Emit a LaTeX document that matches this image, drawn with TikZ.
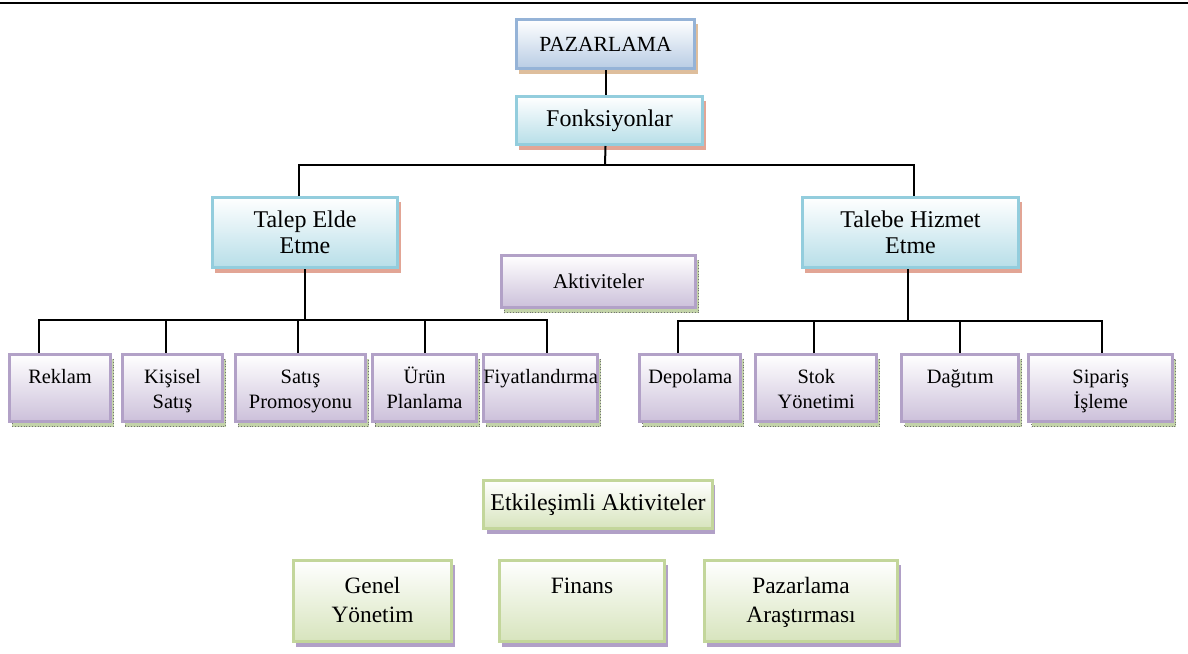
\documentclass[tikz,border=0pt]{standalone}
\usepackage{fontspec}
\setmainfont{Liberation Serif}
\usetikzlibrary{positioning,shadows}
\definecolor{pzline}{HTML}{95B3D7}
\definecolor{pzfill}{HTML}{B8CCE4}
\definecolor{pzshadow}{HTML}{DEBE9C}
\definecolor{cyline}{HTML}{93CDDD}
\definecolor{cyfill}{HTML}{B7DEE8}
\definecolor{cyshadow}{HTML}{E2A595}
\definecolor{liline}{HTML}{B2A1C7}
\definecolor{lifill}{HTML}{CCC0DA}
\definecolor{lishadow}{HTML}{C3D3A9}
\definecolor{grline}{HTML}{C3D69B}
\definecolor{grfill}{HTML}{D7E4BD}
\definecolor{grshadow}{HTML}{B1A0C7}

\begin{document}
\begin{tikzpicture}[
    x=0.5pt, y=-0.5pt,
    node distance=4.5pt,
    head/.style={draw=pzline, line width=1.4pt, top color=white, bottom color=pzfill, align=center,
        drop shadow={shadow xshift=1.5pt, shadow yshift=-2.5pt, fill=pzshadow, opacity=1},
        minimum width=89.1pt, minimum height=24.6pt, font=\fontsize{10.8}{12}\selectfont},
    func/.style={draw=cyline, line width=1.4pt, top color=white, bottom color=cyfill, align=center,
        drop shadow={shadow xshift=1.5pt, shadow yshift=-2.5pt, fill=cyshadow, opacity=1},
        minimum width=92.6pt, minimum height=35.1pt, font=\fontsize{12}{13}\selectfont},
    act/.style={draw=liline, line width=1.4pt, top color=white, bottom color=lifill, align=center,
        drop shadow={shadow xshift=1.5pt, shadow yshift=-2.5pt, fill=lishadow, draw=black!55, densely dotted, line width=0.4pt, opacity=1},
        minimum width=50.6pt, minimum height=33.6pt, inner xsep=0pt, text height=23pt, text depth=3pt,
        font=\fontsize{10.2}{12.5}\selectfont},
    inter/.style={draw=grline, line width=1.4pt, top color=white, bottom color=grfill, align=center,
        drop shadow={shadow xshift=1.5pt, shadow yshift=-2.5pt, fill=grshadow, opacity=1},
        minimum width=79.1pt, minimum height=40.6pt, text height=24pt, text depth=3pt,
        font=\fontsize{11.7}{14.5}\selectfont},
    link/.style={draw=black, line width=1pt},
    rule/.style={draw=black, line width=1.2pt}
]
\useasboundingbox (0,0) rectangle (1188,653);
\draw[rule] (0,3) -- (1188,3);

% top levels
\node[head] (pzr) at (605.5,44) {PAZARLAMA};
\node[func, minimum width=93.1pt, minimum height=24.1pt] (fnk) at (609.5,120.5) {Fonksiyonlar};
\node[func] (talep) at (305,232.5) {Talep Elde\\Etme};
\node[func, minimum width=108.1pt] (talebe) at (910.5,232.5) {Talebe Hizmet\\Etme};
\node[act, minimum width=97.1pt, minimum height=26.1pt, text height=, text depth=, inner xsep=3.33pt,
      font=\fontsize{10.5}{12}\selectfont] (akt) at (598.5,281.5) {Aktiviteler};

% activities
\node[act] (reklam) at (60,388) {Reklam\\\mbox{}};
\node[act, right=of reklam, minimum width=50.1pt] (kisisel) {Kişisel\\Satış};
\node[act, right=5pt of kisisel, minimum width=65.1pt] (satis) {Satış\\Promosyonu};
\node[act, right=2pt of satis, minimum width=52.1pt] (urun) {Ürün\\Planlama};
\node[act, right=2pt of urun, minimum width=56.6pt] (fiyat) {Fiyatlandırma\\\mbox{}};
\node[act, right=19.5pt of fiyat] (depo) {Depolama\\\mbox{}};
\node[act, right=6pt of depo, minimum width=60.6pt] (stok) {Stok\\Yönetimi};
\node[act, right=11pt of stok, minimum width=58.6pt] (dagitim) {Dağıtım\\\mbox{}};
\node[act, right=3.5pt of dagitim, minimum width=72.1pt] (siparis) {Sipariş\\İşleme};

% interacting activities
\node[inter, minimum width=113.6pt, minimum height=24.1pt, text height=, text depth=,
      font=\fontsize{12}{14}\selectfont] (etk) at (598,504.5) {Etkileşimli Aktiviteler};
\node[inter] (genel) at (372.5,601) {Genel\\Yönetim};
\node[inter, right=22.5pt of genel, minimum width=82.6pt] (finans) {Finans\\\mbox{}};
\node[inter, right=18.5pt of finans, minimum width=96.6pt] (arastirma) {Pazarlama\\Araştırması};

\coordinate (topbus) at (605,165);
\coordinate (lbus) at (305,320);
\coordinate (rbus) at (908,321);

\draw[link] (pzr.south) -- (pzr.south |- fnk.north);
\draw[link] (pzr.south |- fnk.south) -- (topbus);
\draw[link] ([xshift=-3pt]talep.north) |- (topbus) -| ([xshift=1.75pt]talebe.north);

\draw[link] (talep.south) -- (lbus);
\draw[link] ([xshift=-10.5pt]reklam.north) |- ([xshift=3pt]fiyat.north |- lbus) -- ([xshift=3pt]fiyat.north);
\draw[link] ([xshift=-3.25pt]kisisel.north) -- ([xshift=-3.25pt]kisisel.north |- lbus);
\draw[link] ([xshift=-1.25pt]satis.north) -- ([xshift=-1.25pt]satis.north |- lbus);
\draw[link] (urun.north) -- (urun.north |- lbus);

\draw[link] ([xshift=-1.25pt]talebe.south) -- (rbus);
\draw[link] ([xshift=-6pt]depo.north) |- ([xshift=0.75pt]siparis.north |- rbus) -- ([xshift=0.75pt]siparis.north);
\draw[link] ([xshift=-1pt]stok.north) -- ([xshift=-1pt]stok.north |- rbus);
\draw[link] (dagitim.north) -- (dagitim.north |- rbus);
\end{tikzpicture}
\end{document}
